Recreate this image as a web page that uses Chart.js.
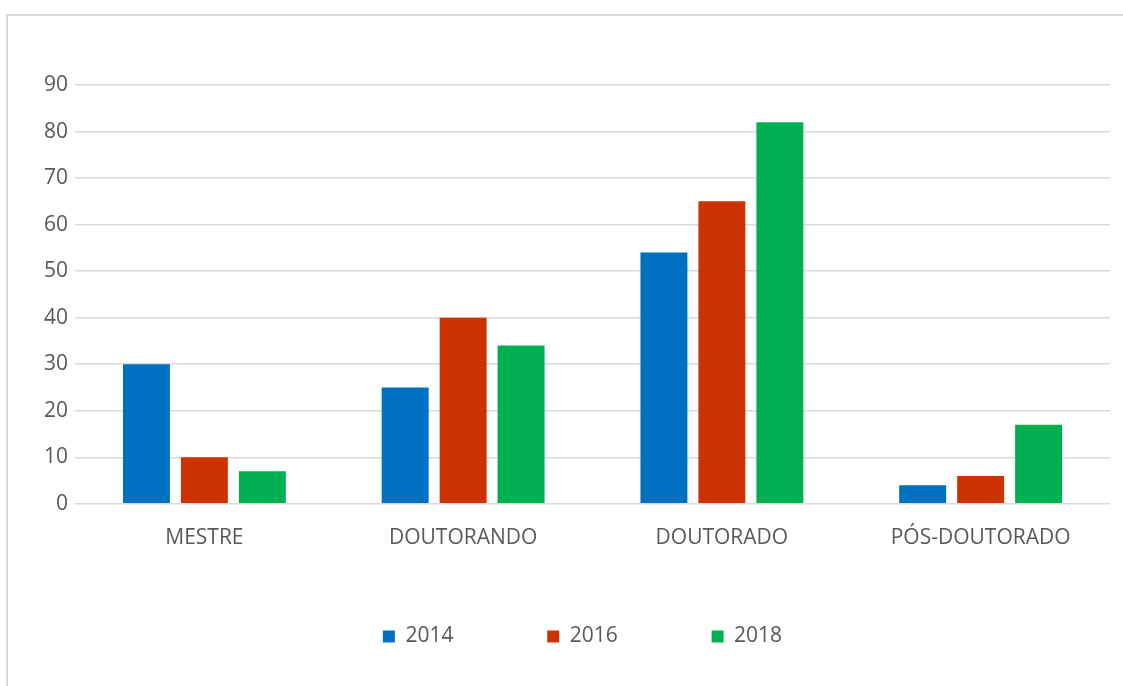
<!DOCTYPE html>
<html>
<head>
<meta charset="utf-8">
<script src="https://cdn.jsdelivr.net/npm/chart.js@4"></script>
<style>
  body { margin: 0; background: #fff; overflow: hidden; }
  #frame { position: absolute; left: 6px; top: 14px; width: 1200px; height: 800px; border: 2px solid #d9d9d9; box-sizing: border-box; }
  #wrap { position: absolute; left: 0; top: 0; width: 1123px; height: 686px; }
</style>
</head>
<body>
<div id="frame"></div>
<div id="wrap"><canvas id="myChart"></canvas></div>
<script>
// DATA
const categories = ['MESTRE', 'DOUTORANDO', 'DOUTORADO', 'PÓS-DOUTORADO'];
const years = ['2014', '2016', '2018'];
const values2014 = [30, 25, 54, 4];
const values2016 = [10, 40, 65, 6];
const values2018 = [7, 34, 82, 17];
const colors = ['#0070C0', '#CC3300', '#00B050'];

const ctx = document.getElementById('myChart');
const font = "'Open Sans', 'DejaVu Sans', sans-serif";

// nudge legend a bit to the right, like the original
const legendShift = {
  id: 'legendShift',
  afterLayout(chart) {
    chart.legend.left += 9;
    chart.legend.right += 9;
  }
};

new Chart(ctx, {
  type: 'bar',
  data: {
    labels: categories,
    datasets: [
      { label: years[0], data: values2014, backgroundColor: colors[0] },
      { label: years[1], data: values2016, backgroundColor: colors[1] },
      { label: years[2], data: values2018, backgroundColor: colors[2] }
    ]
  },
  options: {
    responsive: true,
    maintainAspectRatio: false,
    animation: false,
    datasets: {
      bar: { barPercentage: 0.81, categoryPercentage: 0.672 }
    },
    layout: { padding: { left: 37, right: 13, top: 85, bottom: 29 } },
    plugins: {
      tooltip: { enabled: false },
      legend: {
        position: 'bottom',
        labels: {
          boxWidth: 12,
          boxHeight: 12,
          padding: 12,
          color: '#595959',
          font: { family: font, size: 21 },
          // wide gaps between the legend entries
          generateLabels(chart) {
            const items = Chart.defaults.plugins.legend.labels.generateLabels(chart);
            items.forEach((it, i) => {
              if (i < items.length - 1) it.text = it.text + ' '.repeat(15);
            });
            return items;
          }
        }
      }
    },
    scales: {
      x: {
        grid: { display: false, drawTicks: false },
        border: { display: false },
        ticks: { color: '#595959', font: { family: font, size: 21 }, padding: 22 },
        afterFit(scale) { scale.height += 41; }
      },
      y: {
        min: 0,
        max: 90,
        ticks: { stepSize: 10, color: '#595959', font: { family: font, size: 21 }, padding: 7 },
        grid: { color: '#d9d9d9', lineWidth: 1.5, drawTicks: false },
        border: { display: false }
      }
    }
  },
  plugins: [legendShift]
});
</script>
</body>
</html>
